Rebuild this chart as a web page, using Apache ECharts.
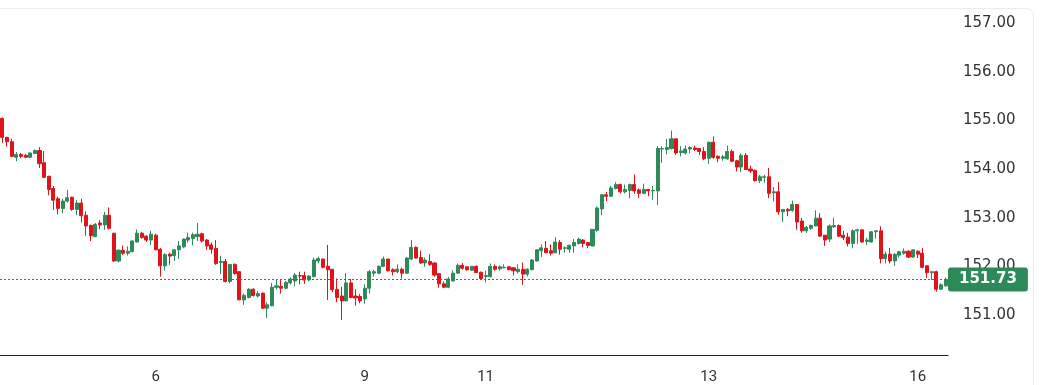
<!DOCTYPE html>
<html>
<head>
<meta charset="utf-8">
<script src="https://cdn.jsdelivr.net/npm/echarts@6/dist/echarts.min.js"></script>
<style>
html,body{margin:0;padding:0;background:#fff;}
#chart{width:1053px;height:385px;}
</style>
</head>
<body>
<div id="chart"></div>
<script>
// Hourly candles
const opens = [
155.04,154.65,154.56,154.24,154.30,154.28,154.24,154.32,154.38,154.13,
153.85,153.60,153.39,153.19,153.34,153.42,153.17,153.30,153.05,152.84,
152.61,152.89,152.85,153.05,152.68,152.11,152.33,152.27,152.30,152.50,
152.68,152.62,152.54,152.64,152.35,152.01,152.25,152.22,152.34,152.40,
152.54,152.57,152.61,152.67,152.54,152.44,152.37,152.08,152.10,151.69,
152.04,151.89,151.31,151.36,151.53,151.39,151.45,151.14,151.19,151.57,
151.59,151.55,151.66,151.70,151.81,151.81,151.72,151.79,152.11,152.15,
152.00,151.94,151.53,151.39,151.29,151.66,151.39,151.38,151.33,151.55,
151.86,151.86,152.00,152.15,151.93,151.89,151.94,151.86,152.15,152.39,
152.18,152.07,152.10,152.07,151.85,151.64,151.57,151.70,151.86,152.02,
151.99,151.92,152.00,151.88,151.79,151.79,152.00,151.95,151.97,151.99,
151.97,151.89,151.94,151.84,151.93,152.11,152.32,152.37,152.32,152.28,
152.49,152.37,152.35,152.42,152.47,152.54,152.49,152.42,152.74,153.18,
153.47,153.44,153.60,153.68,153.53,153.56,153.68,153.57,153.50,153.58,
153.55,153.55,154.41,154.40,154.42,154.62,154.34,154.33,154.41,154.43,
154.42,154.36,154.22,154.55,154.26,154.22,154.21,154.36,154.17,154.04,
154.28,154.00,153.97,153.76,153.83,153.84,153.51,153.53,153.12,153.17,
153.15,153.27,152.93,152.73,152.78,152.83,152.99,152.64,152.56,152.81,
152.84,152.64,152.60,152.47,152.73,152.75,152.51,152.50,152.71,152.73,
152.16,152.25,152.11,152.23,152.27,152.31,152.19,152.31,152.27,152.01,
151.87,151.89,151.53,151.60
];
const closes = [
154.65,154.56,154.26,154.30,154.26,154.24,154.33,154.38,154.11,153.83,
153.58,153.36,153.19,153.34,153.41,153.17,153.30,153.04,152.83,152.63,
152.86,152.85,153.05,152.78,152.11,152.33,152.27,152.31,152.52,152.68,
152.59,152.54,152.66,152.34,152.01,152.24,152.21,152.34,152.42,152.56,
152.59,152.65,152.66,152.52,152.42,152.35,152.06,152.10,151.69,152.04,
151.85,151.31,151.40,151.53,151.40,151.44,151.14,151.21,151.57,151.60,
151.55,151.67,151.74,151.82,151.80,151.72,151.80,152.13,152.16,151.98,
151.93,151.52,151.36,151.29,151.66,151.36,151.35,151.29,151.55,151.89,
151.89,152.00,152.15,151.91,151.89,151.94,151.86,152.17,152.39,152.17,
152.07,152.13,152.04,151.82,151.64,151.57,151.74,151.86,152.02,151.96,
151.93,152.00,151.87,151.75,151.81,152.00,151.94,151.99,151.98,151.93,
151.91,151.94,151.84,151.94,152.13,152.34,152.38,152.28,152.27,152.50,
152.35,152.38,152.43,152.49,152.56,152.47,152.43,152.76,153.20,153.47,
153.44,153.61,153.68,153.53,153.58,153.68,153.55,153.50,153.58,153.55,
153.56,154.42,154.42,154.44,154.62,154.33,154.37,154.41,154.44,154.40,
154.36,154.21,154.55,154.24,154.22,154.25,154.36,154.16,154.04,154.28,
153.99,153.96,153.76,153.84,153.84,153.50,153.53,153.12,153.17,153.14,
153.27,152.91,152.73,152.80,152.84,152.99,152.62,152.54,152.83,152.84,
152.62,152.59,152.47,152.73,152.75,152.50,152.54,152.71,152.73,152.16,
152.25,152.11,152.25,152.30,152.31,152.19,152.34,152.25,151.98,151.87,
151.89,151.53,151.62,151.73
];
const lows = [
154.54,154.46,154.24,154.16,154.22,154.22,154.22,154.31,154.02,153.81,
153.46,153.16,153.07,153.09,153.31,153.14,153.05,152.90,152.63,152.52,
152.60,152.76,152.75,152.76,152.09,152.08,152.23,152.22,152.29,152.49,
152.57,152.50,152.44,152.33,151.79,151.91,152.03,152.11,152.15,152.37,
152.49,152.43,152.52,152.49,152.34,152.26,152.03,151.84,151.67,151.65,
151.83,151.31,151.21,151.34,151.38,151.36,151.12,150.94,151.18,151.52,
151.44,151.53,151.63,151.59,151.63,151.64,151.69,151.77,152.06,151.96,
151.31,151.47,151.26,150.90,151.28,151.34,151.19,151.24,151.23,151.44,
151.79,151.84,151.98,151.89,151.81,151.86,151.75,151.84,152.13,152.16,
152.05,151.99,152.01,151.79,151.56,151.55,151.55,151.69,151.84,151.93,
151.91,151.91,151.86,151.72,151.67,151.77,151.91,151.91,151.96,151.92,
151.81,151.85,151.62,151.79,151.92,152.10,152.19,152.27,152.22,152.27,
152.24,152.28,152.28,152.28,152.45,152.39,152.37,152.41,152.71,153.05,
153.34,153.43,153.58,153.50,153.50,153.40,153.49,153.40,153.48,153.44,
153.36,153.26,154.13,154.30,154.40,154.29,154.26,154.30,154.32,154.37,
154.29,154.18,154.10,154.21,154.14,154.17,154.19,154.14,153.95,153.94,
153.98,153.92,153.74,153.71,153.72,153.40,153.33,153.06,152.91,153.03,
153.12,152.75,152.69,152.69,152.75,152.82,152.61,152.42,152.50,152.79,
152.60,152.54,152.41,152.37,152.46,152.49,152.44,152.49,152.57,152.06,
152.06,152.06,152.01,152.18,152.24,152.17,152.18,152.17,151.96,151.76,
151.72,151.48,151.52,151.58
];
const highs = [
155.06,154.66,154.62,154.35,154.33,154.31,154.34,154.40,154.45,154.37,
153.86,153.65,153.43,153.39,153.57,153.43,153.36,153.39,153.13,152.86,
152.89,152.95,153.12,153.21,152.69,152.35,152.43,152.41,152.54,152.76,
152.71,152.64,152.73,152.67,152.38,152.27,152.28,152.35,152.52,152.57,
152.69,152.69,152.89,152.69,152.56,152.49,152.54,152.22,152.15,152.04,
152.06,151.89,151.44,151.55,151.55,151.49,151.46,151.26,151.66,151.72,
151.74,151.70,151.77,151.86,151.89,151.89,151.82,152.18,152.20,152.16,
152.44,151.94,151.75,151.58,151.86,151.74,151.53,151.43,151.63,151.93,
151.93,152.02,152.20,152.15,151.96,152.04,151.97,152.19,152.54,152.41,
152.32,152.18,152.25,152.08,151.85,151.69,151.78,151.92,152.06,152.07,
152.00,152.00,152.02,151.89,151.91,152.06,152.04,152.02,152.04,152.00,
151.98,152.04,152.08,151.96,152.15,152.35,152.45,152.52,152.45,152.60,
152.54,152.41,152.45,152.56,152.59,152.56,152.50,152.76,153.23,153.48,
153.53,153.65,153.73,153.70,153.68,153.70,153.89,153.60,153.70,153.59,
153.65,154.47,154.47,154.62,154.79,154.62,154.47,154.48,154.47,154.48,
154.43,154.45,154.56,154.67,154.28,154.29,154.48,154.40,154.19,154.32,
154.33,154.07,153.99,153.88,153.88,154.02,153.63,153.73,153.17,153.20,
153.35,153.27,152.99,152.83,152.86,153.15,153.09,152.64,152.86,153.00,
152.86,152.73,152.69,152.76,152.77,152.75,152.59,152.72,152.73,152.82,
152.30,152.38,152.27,152.32,152.37,152.33,152.35,152.33,152.38,152.02,
151.89,151.91,151.65,151.77
];
// Day tick labels and the candle at which each day label sits
const dayLabels = ['6', '9', '11', '13', '16'];
const dayStartIndex = [33, 78, 104, 152, 197];
const lastPrice = 151.73;
const yMin = 151, yMax = 157, yStep = 1;

const categories = opens.map(() => '');
dayLabels.forEach((d, i) => { categories[dayStartIndex[i]] = d; });
const candles = opens.map((o, i) => [o, closes[i], lows[i], highs[i]]);

const UP = '#2f8a5b', DOWN = '#e0131b';
const chart = echarts.init(document.getElementById('chart'), null, {renderer: 'canvas'});
chart.setOption({
  animation: false,
  backgroundColor: '#ffffff',
  graphic: [{
    type: 'rect', silent: true, z: -10,
    shape: {x: -20, y: 8.5, width: 1053.5, height: 420, r: 7},
    style: {fill: 'none', stroke: '#ececec', lineWidth: 1}
  }],
  grid: {left: -1.3, top: 23, width: 949.3, height: 293, containLabel: false},
  xAxis: {
    type: 'category',
    data: categories,
    boundaryGap: true,
    offset: 40,
    axisLine: {show: true, lineStyle: {color: '#222', width: 1}},
    axisTick: {show: false},
    splitLine: {show: false},
    axisLabel: {
      interval: (i, v) => v !== '',
      color: '#333', fontSize: 15, fontFamily: 'Roboto', margin: 15
    }
  },
  yAxis: {
    type: 'value', position: 'right',
    min: yMin, max: yMax, interval: yStep,
    axisLine: {show: false}, axisTick: {show: false}, splitLine: {show: false},
    axisLabel: {
      show: true, margin: 15, color: '#333', fontSize: 15, fontFamily: 'DejaVu Sans',
      padding: [0, 0, 4, 0],
      formatter: v => v.toFixed(2)
    }
  },
  series: [{
    type: 'candlestick',
    data: candles,
    clip: false,
    barWidth: 3.6,
    itemStyle: {color: UP, color0: DOWN, borderColor: UP, borderColor0: DOWN, borderWidth: 1},
    markLine: {
      silent: true, symbol: 'none', animation: false,
      lineStyle: {color: '#2f7d5a', type: [2, 2], width: 1},
      label: {
        show: true, position: 'end', distance: 0,
        formatter: () => lastPrice.toFixed(2),
        backgroundColor: '#2b8a57', color: '#fff', fontWeight: 'bold',
        fontSize: 15, fontFamily: 'DejaVu Sans',
        padding: [4, 11, 4, 11], borderRadius: 3, lineHeight: 16
      },
      data: [{yAxis: lastPrice}]
    }
  }]
});
</script>
</body>
</html>
